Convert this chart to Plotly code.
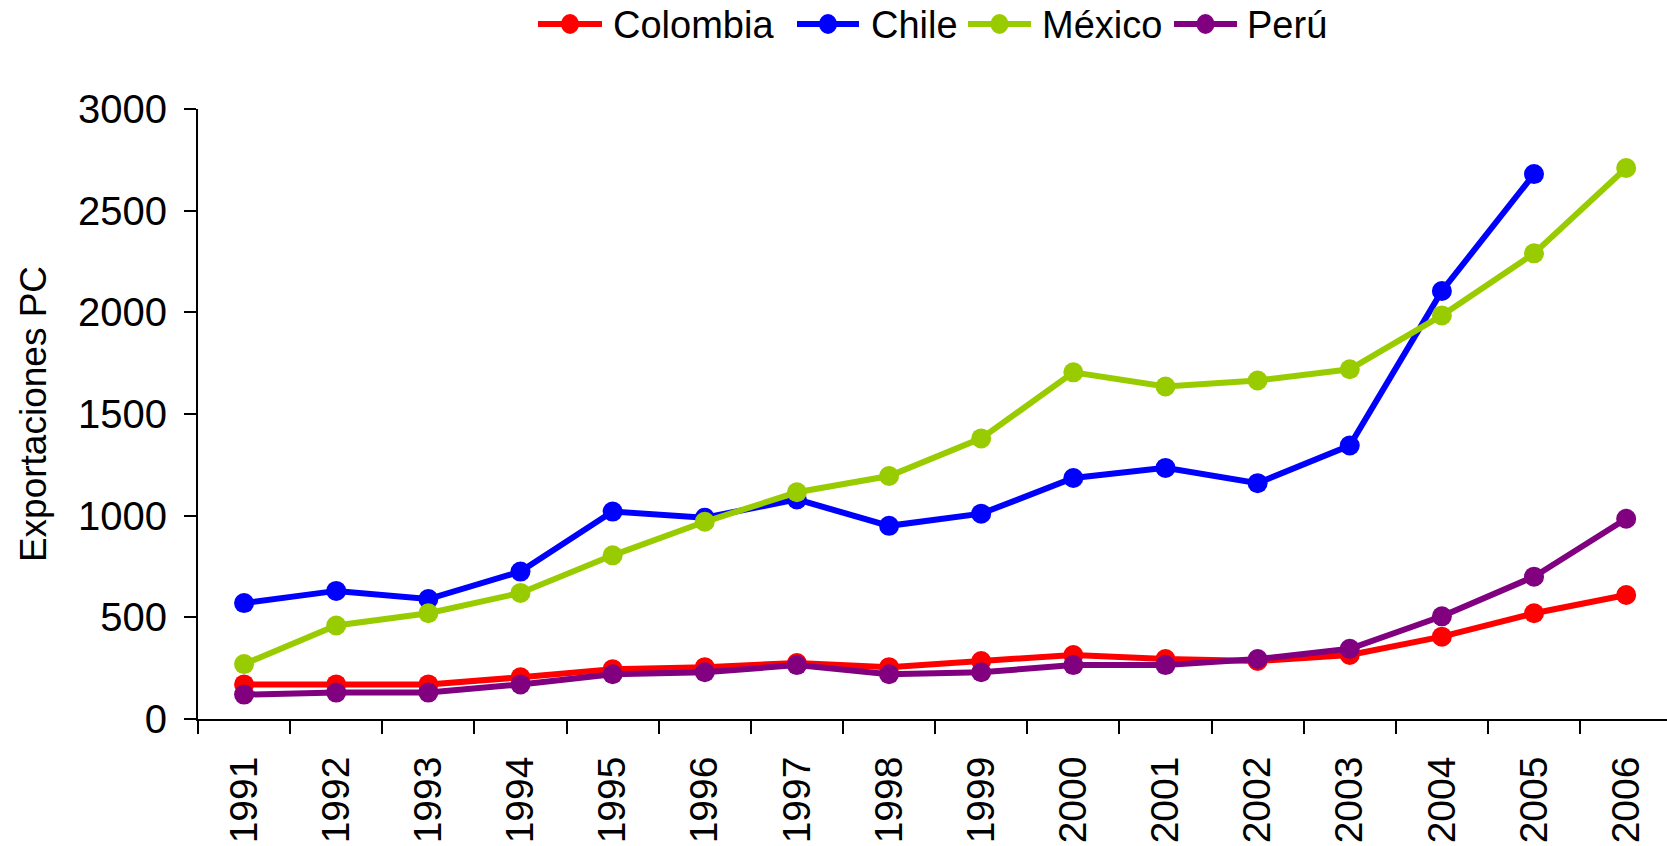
import plotly.graph_objects as go

years = ["1991", "1992", "1993", "1994", "1995", "1996", "1997", "1998",
         "1999", "2000", "2001", "2002", "2003", "2004", "2005", "2006"]
colombia = [170, 170, 170, 205, 245, 255, 275, 255, 285, 315, 295, 285, 315, 405, 520, 610]
chile = [570, 630, 590, 725, 1020, 990, 1080, 950, 1010, 1185, 1235, 1160, 1345, 2105, 2680, None]
mexico = [270, 460, 520, 620, 805, 970, 1115, 1195, 1380, 1705, 1635, 1665, 1720, 1985, 2290, 2710]
peru = [120, 130, 130, 170, 220, 230, 265, 220, 230, 265, 265, 295, 345, 505, 700, 985]

names = ["Colombia", "Chile", "México", "Perú"]
values = [colombia, chile, mexico, peru]
colors = ["#FF0000", "#0000FF", "#99CC00", "#800080"]

# figure geometry (pixels)
W, H = 1667, 846
L, T, B = 198, 109, 127
PW, PH = W - L, H - T - B
CAT_W = 92.14

fig = go.Figure()
for name, vals, color in zip(names, values, colors):
    fig.add_trace(go.Scatter(
        x=years, y=vals, name=name, mode="lines+markers",
        line=dict(color=color, width=6),
        marker=dict(color=color, size=20, symbol="circle"),
        connectgaps=False, showlegend=False,
    ))

# manual legend (top, centred) so the sample lines match the original length
leg_line_x = [(538, 602), (797, 859), (968, 1031), (1174, 1237)]
leg_text_x = [611, 869, 1040, 1245]
leg_y = 24


def px_x(px):
    return (px - L) / PW


def px_y(py):
    return (H - B - py) / PH


shapes = []
annotations = []
for name, color, (a, b), tx in zip(names, colors, leg_line_x, leg_text_x):
    shapes.append(dict(type="line", xref="paper", yref="paper",
                       x0=px_x(a), x1=px_x(b), y0=px_y(leg_y), y1=px_y(leg_y),
                       line=dict(color=color, width=6)))
    shapes.append(dict(type="circle", xref="paper", yref="paper",
                       xsizemode="pixel", ysizemode="pixel",
                       xanchor=px_x((a + b) / 2), yanchor=px_y(leg_y),
                       x0=-9, x1=9, y0=-10, y1=10,
                       fillcolor=color, line=dict(color=color, width=0)))
    annotations.append(dict(text=name, xref="paper", yref="paper",
                            x=px_x(tx), y=px_y(leg_y + 1), xanchor="left", yanchor="middle",
                            showarrow=False,
                            font=dict(size=38, family="Liberation Sans, Arial, sans-serif",
                                      color="black")))

font = "Liberation Sans, Arial, sans-serif"
fig.update_layout(
    width=W, height=H,
    margin=dict(l=L, r=0, t=T, b=B, autoexpand=False),
    paper_bgcolor="white", plot_bgcolor="white",
    font=dict(family=font, color="black"),
    showlegend=False,
    shapes=shapes,
    annotations=annotations,
    xaxis=dict(
        type="category", range=[-0.5, -0.5 + PW / CAT_W],
        showline=True, linecolor="black", linewidth=2,
        ticks="outside", tickson="boundaries", ticklen=13, tickwidth=1.5, tickcolor="black",
        tickangle=-90, tickfont=dict(size=39, family=font),
        showgrid=False, zeroline=False, ticklabelstandoff=20, automargin=False,
    ),
    yaxis=dict(
        range=[0, 3000], tickvals=[0, 500, 1000, 1500, 2000, 2500, 3000],
        showline=True, linecolor="black", linewidth=2,
        ticks="outside", ticklen=12, tickwidth=1.5, tickcolor="black",
        tickfont=dict(size=40, family=font),
        showgrid=False, zeroline=False, ticklabelstandoff=9, automargin=False,
        title=dict(text="Exportaciones PC", font=dict(size=37, family=font), standoff=20),
    ),
)

fig.write_html("out.html", config={"displayModeBar": False},
               post_script="document.body.style.margin='0px';document.body.style.overflow='hidden';")
